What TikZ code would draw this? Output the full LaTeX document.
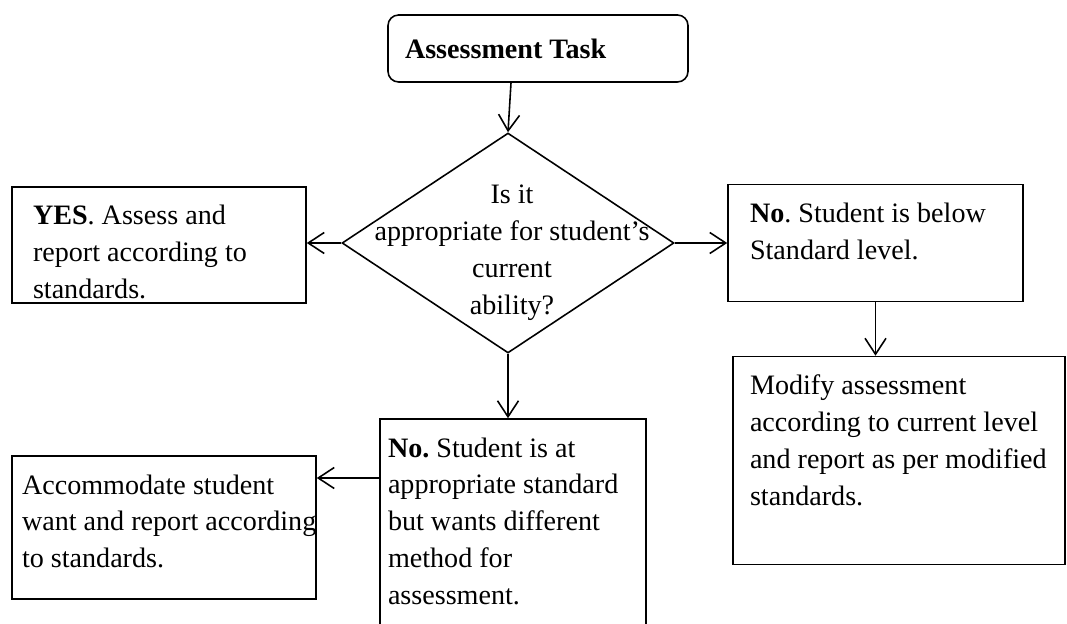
\documentclass[tikz,border=0pt]{standalone}
\usepackage{fontspec}
\setmainfont{Liberation Serif}
\usepackage{tikz}
\usetikzlibrary{arrows.meta,shapes.geometric}
\usetikzlibrary{positioning}
\frenchspacing

% text of a box: set from the top, first baseline at a fixed depth
\newcommand{\boxtext}[3]{\parbox[t][#2][t]{#1}{\raggedright\hyphenpenalty=10000\rule{0pt}{0.76cm}#3}}

\tikzset{
    startbox/.style={
           rectangle,
           rounded corners=6pt,
           draw=black, line width=0.9pt,
           minimum width=6cm,
           minimum height=1.34cm,
           inner xsep=0.34cm,
           },
    stepbox/.style={
           rectangle,
           draw=black, line width=0.9pt,
           inner xsep=0.42cm,
           inner ysep=0pt,
           anchor=center,
           },
    decision/.style={
           diamond,
           aspect=1.5,
           draw=black, line width=0.9pt,
           minimum width=6.64cm,
           minimum height=4.4cm,
           inner sep=0pt,
           anchor=center,
           },
}

\begin{document}
\begin{tikzpicture}[->,>={Straight Barb[length=0.32cm,width=0.42cm]},
  line width=0.9pt, font=\fontsize{16}{21}\selectfont]
 \useasboundingbox (0,0) rectangle (21.34,-12.48);

 \node[startbox] (Task) at (10.76,-0.97)
 {\makebox[5.32cm][l]{\textbf{Assessment Task}}};

 % the question
 \node[decision,
  below of=Task,
  node distance=3.89cm,
  xshift=-0.6cm,
  label={[align=center,xshift=0.08cm,yshift=-0.2cm]center:Is it\\appropriate for student’s\\current\\ability?}] (Question)
 {};

 \node[stepbox,
  left of=Question,
  node distance=6.98cm,
  yshift=-0.04cm] (Yes)
 {\boxtext{5.04cm}{2.32cm}{\textbf{YES}. Assess and\\report according to\\standards.}};

 \node[stepbox,
  right of=Question,
  node distance=7.35cm,
  inner xsep=0.44cm] (Below)
 {\boxtext{5.02cm}{2.34cm}{\textbf{No}. Student is below\\Standard level.}};

 \node[stepbox,     % box under the "below" answer
  below of=Below,
  node distance=4.35cm,
  xshift=0.47cm,
  inner xsep=0.34cm] (Modify)
 {\boxtext{5.96cm}{4.16cm}{Modify assessment\\according to current level\\\mbox{and report as per modified}\\standards.}};

 \node[stepbox,
  below of=Question,
  node distance=5.6cm,
  xshift=0.1cm,
  inner xsep=0.16cm] (Different)
 {\boxtext{5cm}{4.16cm}{\textbf{No.} Student is at\\appropriate standard\\but wants different\\method for\\assessment.}};

 \node[stepbox,
  left of=Different,
  node distance=6.98cm,
  yshift=-0.09cm,
  inner xsep=0.2cm] (Accommodate)
 {\boxtext{5.68cm}{2.86cm}{Accommodate student\\\mbox{want and report according}\\to standards.}};

 % arrows between the boxes
 \draw ([xshift=-0.54cm]Task.south) -- (Question.north);
 \draw (Question.west) -- (Question.west -| Yes.east);
 \draw (Question.east) -- (Question.east -| Below.west);
 \draw (Below.south) -- (Below.south |- Modify.north);
 \draw (Question.south) -- (Question.south |- Different.north);
 \draw ([yshift=0.9cm]Different.west) -- ([yshift=0.9cm]Different.west -| Accommodate.east);

\end{tikzpicture}
\end{document}
